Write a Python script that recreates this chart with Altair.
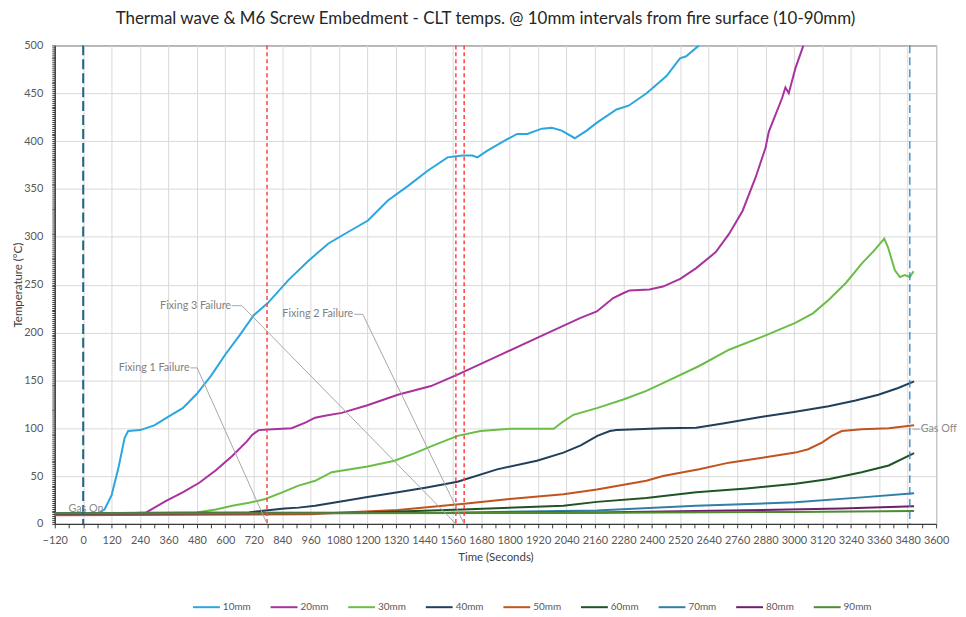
import altair as alt
import pandas as pd

# ---------------- data ----------------
series_names = ["10mm", "20mm", "30mm", "40mm", "50mm", "60mm", "70mm", "80mm", "90mm"]
series_colors = ["#2AA7DE", "#A8329E", "#6BBE45", "#203F5B", "#C0541E",
                 "#1F5426", "#2F7FA8", "#6E1F6C", "#4C8B2F"]

t10 = [-120, 60, 90, 120, 150, 175, 190, 240, 300, 360, 420, 480, 540, 600, 660, 720, 780,
       867, 951, 1035, 1118, 1202, 1286, 1370, 1454, 1538, 1600, 1643, 1664, 1706, 1790, 1832,
       1874, 1936, 1978, 2020, 2075, 2125, 2167, 2251, 2302, 2378, 2462, 2519, 2545, 2599]
v10 = [11, 11, 15, 30, 60, 90, 97, 98, 103, 112, 121, 136, 155, 177, 197, 218, 231,
       255, 275, 293, 305, 317, 338, 353, 369, 383, 385, 385, 383, 390, 402, 407.5,
       407.5, 413, 414, 411, 403, 411, 419, 433, 437, 450, 468, 486.5, 488.6, 500]

t20 = [-120, 200, 266, 350, 420, 490, 560, 629, 690, 713, 741, 800, 880, 940, 979, 1020, 1091,
       1200, 1328, 1468, 1580, 1747, 1957, 2097, 2168, 2237, 2279, 2306, 2390, 2447, 2520, 2586,
       2670, 2726, 2783, 2838, 2880, 2894, 2950, 2964, 2978, 3006, 3040]
v20 = [11, 11, 12, 24, 33, 43, 56, 71, 86, 93, 98, 99, 100, 106, 111, 113, 116,
       124, 135, 144, 156, 175, 199, 215, 222, 236, 241, 244, 245, 248, 256, 267,
       284, 303, 327, 362, 393, 410, 445, 456, 450, 476, 500]

t30 = [-120, 480, 560, 629, 700, 769, 840, 909, 979, 1049, 1200, 1314, 1400, 1468, 1580, 1677,
       1804, 1986, 2020, 2069, 2168, 2280, 2377, 2447, 2600, 2726, 2870, 3006, 3080, 3146, 3220,
       3286, 3340, 3381, 3397, 3426, 3447, 3468, 3489, 3505]
v30 = [11, 12, 15, 19, 22, 26, 33, 40, 45, 54, 60, 66, 74, 81, 92, 97,
       99.5, 99.5, 106, 114, 121, 130, 139, 147, 165, 182, 196, 210, 220, 234, 252,
       272, 286, 298, 289, 265, 258, 260, 258, 264]

t40 = [-120, 700, 769, 850, 909, 979, 1100, 1200, 1328, 1450, 1580, 1747, 1915, 2027, 2100,
       2170, 2223, 2251, 2447, 2587, 2700, 2866, 3000, 3146, 3260, 3356, 3440, 3507]
v40 = [11, 12, 14, 16, 17, 19, 24, 28, 33, 38, 44, 57, 66, 74.5, 82,
       92, 97, 98, 100, 100.5, 105, 112, 117, 123, 129, 135, 142, 149]

t50 = [-120, 960, 1100, 1328, 1608, 1800, 2027, 2168, 2377, 2447, 2600, 2726, 2866, 3006,
       3060, 3118, 3160, 3202, 3286, 3400, 3507]
v50 = [9, 10, 12, 14.5, 21, 26, 31, 36, 45, 50, 57, 64, 69, 74.5,
       78, 85, 92, 97, 99, 100, 103]

t60 = [-120, 1200, 1600, 2027, 2168, 2377, 2587, 2800, 3006, 3150, 3286, 3400, 3507]
v60 = [11, 12, 15, 19, 23, 27, 33, 37, 42, 47, 54, 61, 74]

t70 = [-120, 1500, 2168, 2587, 3006, 3286, 3507]
v70 = [11, 11.5, 14, 19, 22.5, 27.7, 32]

t80 = [-120, 2168, 2726, 3200, 3507]
v80 = [10.5, 12, 14, 16, 18.5]

t90 = [-120, 2000, 3000, 3507]
v90 = [11, 11.5, 12.5, 13.5]

all_t = [t10, t20, t30, t40, t50, t60, t70, t80, t90]
all_v = [v10, v20, v30, v40, v50, v60, v70, v80, v90]

x_ticks = list(range(-120, 3601, 60))
y_ticks = list(range(0, 501, 2))

gas_on_t = [0]
gas_off_t = [3489]
failure_t = [776, 1573, 1608]

ann_text = ["Fixing 1 Failure", "Fixing 3 Failure", "Fixing 2 Failure"]
ann_t = [449, 624, 1140]
ann_v = [163, 228, 219]
leader_id = ["f1", "f1", "f1", "f3", "f3", "f3", "f2", "f2", "f2", "go", "go"]
leader_t = [453, 481, 776, 628, 670, 1573, 1144, 1180, 1608, 3500, 3530]
leader_v = [163, 163, 0, 228, 228, 0, 219, 219, 0, 99, 99]

gas_text = ["Gas On", "Gas Off"]
gas_text_t = [12, 3535]
gas_text_v = [15.5, 99]

# ---------------- build tables ----------------
rows = []
for name, ts, vs in zip(series_names, all_t, all_v):
    for i, (t, v) in enumerate(zip(ts, vs)):
        rows.append({"series": name, "t": t, "T": v, "i": i})
df = pd.DataFrame(rows)

x_scale = alt.Scale(domain=[-120, 3600], nice=False, zero=False)
y_scale = alt.Scale(domain=[0, 500], nice=False)

x_axis = alt.Axis(
    values=x_ticks, format="d",
    labelExpr="datum.value % 120 === 0 ? datum.label : ''",
    gridOpacity={"condition": {"test": "datum.value % 120 === 0", "value": 1}, "value": 0},
    title="Time (Seconds)", labelOverlap=False, labelFlush=False,
    tickSize=4, labelPadding=7, titlePadding=6,
)
y_axis = alt.Axis(
    values=y_ticks, format="d",
    labelExpr="datum.value % 50 === 0 ? datum.label : ''",
    gridOpacity={"condition": {"test": "datum.value % 50 === 0", "value": 1}, "value": 0},
    title="Temperature (°C)", labelOverlap=False, labelFlush=False,
    tickSize=3, labelPadding=9, titlePadding=0,
)


def X():
    return alt.X("t:Q", scale=x_scale, axis=x_axis)


def Y():
    return alt.Y("T:Q", scale=y_scale, axis=y_axis)


base_lines = alt.Chart(df).mark_line(strokeWidth=2, clip=True).encode(
    x=X(),
    y=Y(),
    color=alt.Color(
        "series:N",
        scale=alt.Scale(domain=series_names, range=series_colors),
        sort=series_names,
        legend=alt.Legend(
            title=None, orient="none", direction="horizontal", columns=9,
            legendX=138, legendY=550, symbolType="stroke", symbolSize=729,
            symbolStrokeWidth=2, labelFontSize=10, labelColor="#595959",
            labelFont="Lato", labelOffset=2, columnPadding=15,
        ),
    ),
    order=alt.Order("i:Q"),
)

gas_on = alt.Chart(pd.DataFrame({"t": gas_on_t})).mark_rule(
    color="#22648A", strokeWidth=2, strokeDash=[10, 4]
).encode(x=X())

gas_off = alt.Chart(pd.DataFrame({"t": gas_off_t})).mark_rule(
    color="#2E86C8", strokeWidth=1.3, strokeDash=[8, 4]
).encode(x=X())

fails = alt.Chart(pd.DataFrame({"t": failure_t})).mark_rule(
    color="#FF4343", strokeWidth=1.5, strokeDash=[4, 3]
).encode(x=X())

leaders = alt.Chart(pd.DataFrame({"id": leader_id, "t": leader_t, "T": leader_v,
                                  "k": list(range(len(leader_t)))})).mark_line(
    color="#A6A6A6", strokeWidth=1
).encode(x=X(), y=Y(), detail="id:N", order="k:Q")

labels = alt.Chart(pd.DataFrame({"txt": ann_text, "t": ann_t, "T": ann_v})).mark_text(
    align="right", baseline="middle", fontSize=10.8, font="Lato", color="#7F7F7F"
).encode(x=X(), y=Y(), text="txt:N")

gas_df = pd.DataFrame({"txt": gas_text, "t": gas_text_t, "T": gas_text_v})
gas_on_lbl = alt.Chart(gas_df).transform_filter("datum.txt === 'Gas On'").mark_text(
    align="center", baseline="middle", fontSize=10.8, font="Lato", color="#8C8C8C"
).encode(x=X(), y=Y(), text="txt:N")
gas_off_lbl = alt.Chart(gas_df).transform_filter("datum.txt === 'Gas Off'").mark_text(
    align="left", baseline="middle", fontSize=10.8, font="Lato", color="#8C8C8C"
).encode(x=X(), y=Y(), text="txt:N")

chart = alt.layer(
    base_lines, gas_on, gas_off, fails, leaders, labels, gas_on_lbl, gas_off_lbl
).properties(
    width=886, height=481,
    autosize=alt.AutoSizeParams(type="none"),
    padding={"left": 47, "top": 36, "right": 22, "bottom": 92},
    title=alt.TitleParams(
        "Thermal wave & M6 Screw Embedment - CLT temps. @ 10mm intervals from fire surface (10-90mm)",
        fontSize=17, font="Lato", fontWeight="normal", color="#262626",
        anchor="middle", dx=-10, offset=12,
    ),
).configure_axis(
    labelFont="Lato", labelFontSize=11, labelColor="#595959",
    titleFont="Lato", titleFontSize=11.5, titleColor="#404040", titleFontWeight="normal",
    gridColor="#D9D9D9", gridWidth=1,
    domainColor="#262626", tickColor="#404040",
    labelOverlap=False, labelFlush=False,
).configure_view(
    stroke="#262626", strokeWidth=1
)

chart.save("out.html", embed_options={"renderer": "svg", "actions": False})
